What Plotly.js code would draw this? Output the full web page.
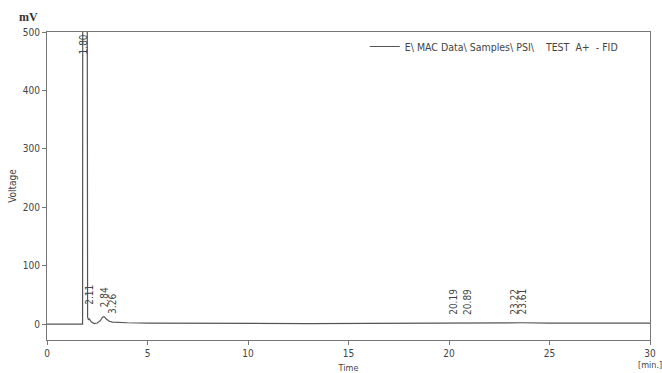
<!DOCTYPE html>
<html>
<head>
<meta charset="utf-8">
<script src="https://cdn.plot.ly/plotly-3.0.1.min.js"></script>
<style>html,body{margin:0;padding:0;background:#fff;}#chart{width:662px;height:373px;}</style>
</head>
<body>
<div id="chart"></div>
<script>
// Chromatogram trace (time in min, signal in mV); the main peak runs far off scale
const timeMin = [0, 1.70, 1.77, 1.79, 1.81, 1.95, 1.97, 1.99, 2.02, 2.06, 2.11, 2.20, 2.35, 2.50, 2.65, 2.76, 2.84, 2.95, 3.10, 3.26, 3.50, 4.0, 5, 7, 10, 13, 16, 18, 20.19, 20.89, 22, 23.22, 23.61, 25, 27, 30];
const voltage = [0, 0, 0, 1500, 2000, 2000, 1500, 60, 12, 8, 9, 4, 1, 2, 6, 12, 13, 9, 5, 3.5, 3, 2.5, 2, 1.5, 1, 1, 1.5, 2, 2.5, 2.5, 2, 2.5, 2.5, 2, 2, 2];

// Peak retention-time labels and the height at which each label is centred
const peakTimes = [1.80, 2.11, 2.84, 3.26, 20.19, 20.89, 23.22, 23.61];
const peakLabels = ["1.80", "2.11", "2.84", "3.26", "20.19", "20.89", "23.22", "23.61"];
const labelCentres = [479, 51, 46, 34, 38, 38, 38, 38];

const xTicks = [0, 5, 10, 15, 20, 25, 30];
const yTicks = [0, 100, 200, 300, 400, 500];
const seriesName = "E\\ MAC Data\\ Samples\\ PSI\\\u00a0\u00a0\u00a0\u00a0TEST\u00a0\u00a0A+\u00a0\u00a0-\u00a0FID";

const FONT = "'Liberation Sans Narrow', 'Arial Narrow', 'DejaVu Sans Condensed', sans-serif";
const TXT = "#444";
const AX = "#777";

const annotations = peakTimes.map((t, i) => ({
  x: t, y: labelCentres[i], xref: "x", yref: "y",
  text: peakLabels[i], textangle: -90, showarrow: false,
  xanchor: "center", yanchor: "middle",
  font: {family: FONT, size: 10, color: TXT}
}));
annotations.push(
  {text: "mV", xref: "paper", yref: "paper", x: -0.0315, y: 1.0, yshift: 15, xanchor: "center", yanchor: "middle", showarrow: false,
   font: {family: "'Liberation Serif', serif", size: 12, color: "#333", weight: "bold"}},
  {text: "[min.]", xref: "paper", yref: "paper", x: 1.0, y: 0, yshift: -18, xanchor: "center", yanchor: "top", showarrow: false,
   font: {family: FONT, size: 9, color: TXT}}
);

const trace = {
  x: timeMin, y: voltage, type: "scatter", mode: "lines", name: seriesName,
  line: {color: "#555", width: 1.2}, cliponaxis: true
};

const layout = {
  width: 662, height: 373,
  margin: {l: 47, r: 12, t: 32, b: 33},
  paper_bgcolor: "#fff", plot_bgcolor: "#fff",
  showlegend: true,
  legend: {x: 0.527, y: 1, xanchor: "left", yanchor: "top", bgcolor: "rgba(0,0,0,0)",
           font: {family: FONT, size: 10.5, color: TXT}, itemwidth: 30},
  xaxis: {
    range: [0, 30], tickvals: xTicks, ticktext: xTicks.map(String),
    showline: true, linecolor: AX, linewidth: 1, mirror: true,
    ticks: "outside", ticklen: 4, tickcolor: AX, showgrid: false, zeroline: false,
    tickfont: {family: FONT, size: 10, color: TXT},
    title: {text: "Time", font: {family: FONT, size: 9, color: TXT}, standoff: 6}
  },
  yaxis: {
    range: [-27, 500], tickvals: yTicks, ticktext: yTicks.map(String),
    showline: true, linecolor: AX, linewidth: 1, mirror: true,
    ticks: "outside", ticklen: 4, tickcolor: AX, showgrid: false, zeroline: false,
    tickfont: {family: FONT, size: 10, color: TXT},
    title: {text: "Voltage", font: {family: FONT, size: 10, color: TXT}, standoff: 4}
  },
  annotations: annotations
};

Plotly.newPlot("chart", [trace], layout, {displayModeBar: false, staticPlot: true});
</script>
</body>
</html>
